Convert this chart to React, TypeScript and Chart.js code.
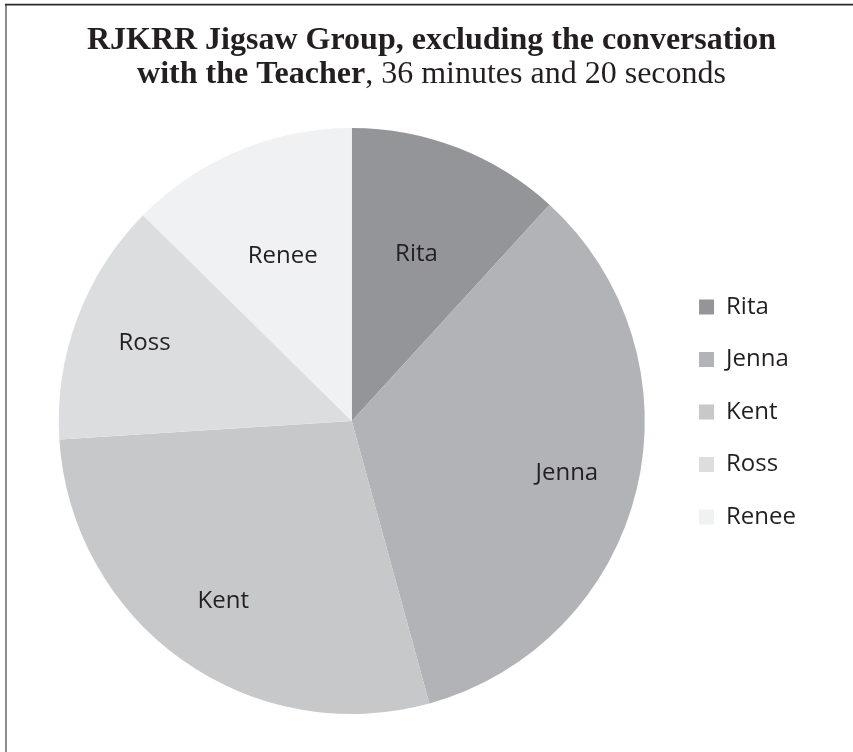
import React, { useEffect, useRef } from 'react';
import { Chart, registerables } from 'chart.js';

Chart.register(...registerables);

// ---- data ----
const speakers = ['Rita', 'Jenna', 'Kent', 'Ross', 'Renee'];
const speakingSeconds = [257, 740, 616, 292, 275];
const sliceColors = ['#939598', '#b1b3b6', '#c7c8ca', '#dcdddf', '#f0f1f2'];
const titleLine1 = 'RJKRR Jigsaw Group, excluding the conversation';
const titleLine2Bold = 'with the Teacher';
const titleLine2Rest = ', 36 minutes and 20 seconds';

const TEXT = '#231f20';
const SANS = '"Open Sans", sans-serif';
const SERIF = '"Liberation Serif", "Times New Roman", serif';

const framePlugin = {
  id: 'frameAndTitle',
  beforeDraw(chart: any) {
    const { ctx, width, height } = chart;
    ctx.save();
    ctx.fillStyle = '#ffffff';
    ctx.fillRect(0, 0, width, height);
    ctx.fillStyle = '#8c8c8c';
    ctx.fillRect(5, 3, 2, height - 3);
    ctx.fillStyle = '#c8c8c8';
    ctx.fillRect(5, 3, width - 5, 1);
    ctx.fillStyle = '#2b2b2b';
    ctx.fillRect(5, 4, width - 5, 1.5);

    const cx = 431.5;
    ctx.fillStyle = TEXT;
    ctx.textBaseline = 'alphabetic';
    ctx.textAlign = 'center';
    ctx.font = `bold 32px ${SERIF}`;
    ctx.fillText(titleLine1, cx, 49);

    ctx.textAlign = 'left';
    ctx.font = `bold 32px ${SERIF}`;
    const wBold = ctx.measureText(titleLine2Bold).width;
    ctx.font = `32px ${SERIF}`;
    const wRest = ctx.measureText(titleLine2Rest).width;
    const x0 = cx - (wBold + wRest) / 2;
    ctx.font = `bold 32px ${SERIF}`;
    ctx.fillText(titleLine2Bold, x0, 83);
    ctx.font = `32px ${SERIF}`;
    ctx.fillText(titleLine2Rest, x0 + wBold, 83);
    ctx.restore();
  },
};

const legendShiftPlugin = {
  id: 'legendShift',
  afterLayout(chart: any) {
    const lg = chart.legend;
    if (lg) {
      lg.top -= 9;
      lg.bottom -= 9;
    }
  },
};

const sliceLabelPlugin = {
  id: 'sliceLabels',
  afterDatasetsDraw(chart: any) {
    const { ctx } = chart;
    const meta = chart.getDatasetMeta(0);
    ctx.save();
    ctx.font = `24px ${SANS}`;
    ctx.fillStyle = TEXT;
    ctx.textAlign = 'center';
    ctx.textBaseline = 'middle';
    meta.data.forEach((arc: any, i: number) => {
      const p = arc.getProps(['x', 'y', 'startAngle', 'endAngle', 'outerRadius'], true);
      const sweep = p.endAngle - p.startAngle;
      const mid = (p.startAngle + p.endAngle) / 2;
      const frac = sweep < 0.82 ? 0.61 : 0.755;
      const d = p.outerRadius * frac;
      ctx.fillText(chart.data.labels[i], p.x + d * Math.cos(mid), p.y + d * Math.sin(mid));
    });
    ctx.restore();
  },
};

export default function App() {
  const ref = useRef<HTMLCanvasElement | null>(null);

  useEffect(() => {
    if (!ref.current) return;
    const chart = new Chart(ref.current, {
      type: 'pie',
      data: {
        labels: speakers,
        datasets: [
          {
            data: speakingSeconds,
            backgroundColor: sliceColors,
            borderWidth: 0,
            radius: 293,
          },
        ],
      },
      options: {
        responsive: false,
        animation: false,
        layout: { padding: { left: 33, right: 47, top: 128, bottom: 38 } },
        plugins: {
          title: { display: false },
          tooltip: { enabled: false },
          legend: {
            position: 'right',
            labels: {
              boxWidth: 15,
              boxHeight: 15,
              padding: 28.5,
              color: TEXT,
              font: { family: SANS, size: 24 },
            },
          },
        },
      } as any,
      plugins: [framePlugin, legendShiftPlugin, sliceLabelPlugin],
    });
    return () => chart.destroy();
  }, []);

  return (
    <div style={{ position: 'absolute', left: 0, top: 0, width: 853, height: 752, background: '#fff' }}>
      <canvas ref={ref} width={853} height={752} style={{ display: 'block' }} />
    </div>
  );
}
